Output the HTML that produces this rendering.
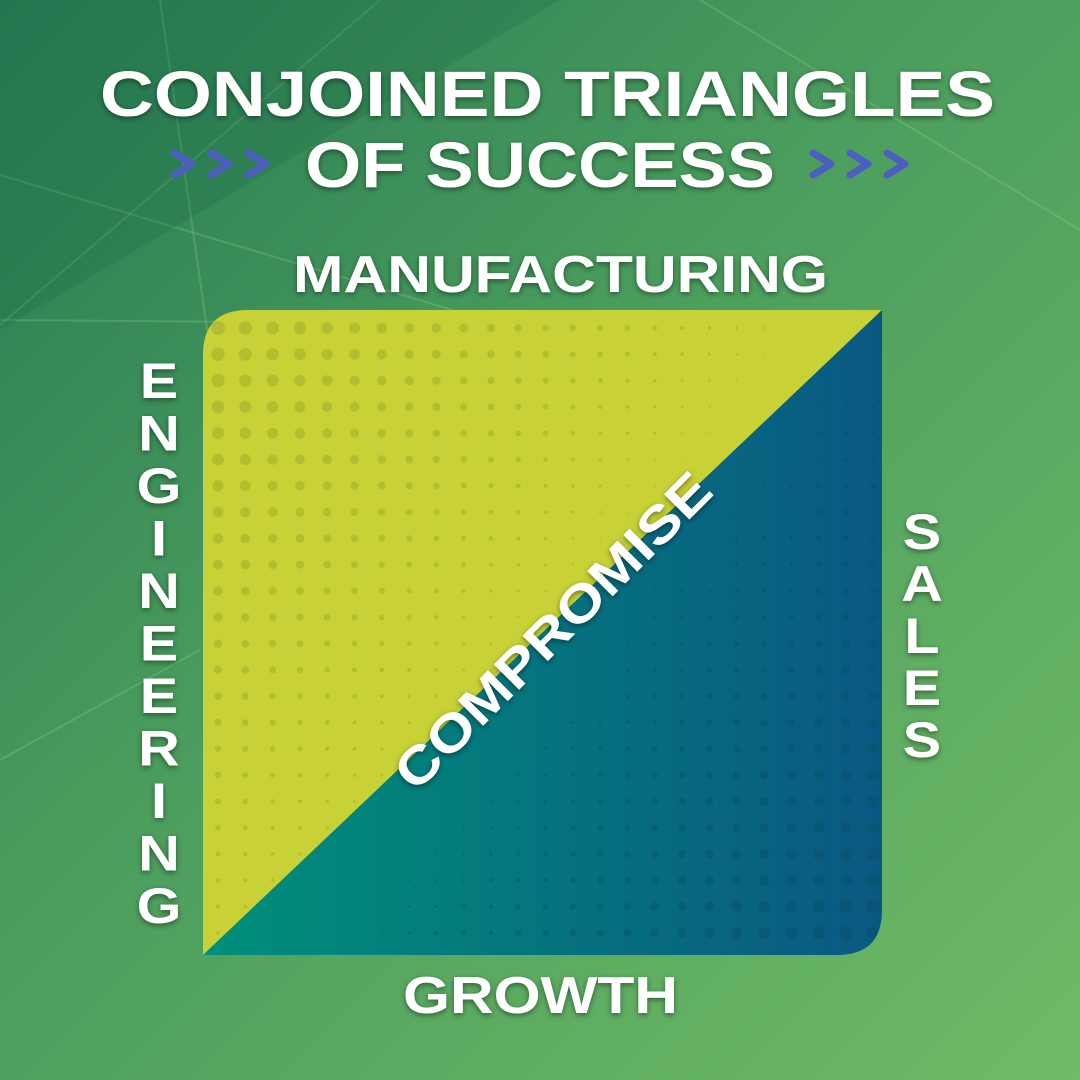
<!DOCTYPE html>
<html><head><meta charset="utf-8"><style>
html,body{margin:0;padding:0;width:1080px;height:1080px;overflow:hidden;}
svg{display:block}
text{font-family:"Liberation Sans",sans-serif;font-weight:bold;fill:#fff;}
</style></head><body>
<svg id="s" width="1080" height="1080" viewBox="0 0 1080 1080">
<defs>
<linearGradient id="bg" x1="0" y1="0" x2="1" y2="1">
<stop offset="0" stop-color="#257a52"/><stop offset="0.45" stop-color="#4c9e5e"/><stop offset="1" stop-color="#70bb66"/>
</linearGradient>
<linearGradient id="teal" x1="0" y1="0" x2="1" y2="0">
<stop offset="0" stop-color="#00907a"/><stop offset="1" stop-color="#0a5882"/>
</linearGradient>
<filter id="sh" x="-20%" y="-20%" width="140%" height="140%"><feDropShadow dx="0" dy="2" stdDeviation="3" flood-color="#000" flood-opacity="0.45"/></filter>
<clipPath id="sq"><path d="M248,310 H882 V910 Q882,955 837,955 H203 V355 Q203,310 248,310 Z"/></clipPath>
<clipPath id="upper"><polygon points="203,310 882,310 203,955"/></clipPath>
<clipPath id="lower"><polygon points="882,310 882,955 203,955"/></clipPath>
</defs>
<rect width="1080" height="1080" fill="url(#bg)"/>
<g stroke="#9fd890" stroke-opacity="0.25" stroke-width="2" fill="none">
<line x1="0" y1="175" x2="620" y2="360"/>
<line x1="0" y1="325" x2="380" y2="0"/>
<line x1="160" y1="0" x2="240" y2="560"/>
<line x1="0" y1="320" x2="260" y2="322"/>
<line x1="700" y1="0" x2="1080" y2="230"/>
<line x1="0" y1="760" x2="200" y2="650"/>
</g>
<polygon points="0,0 560,0 0,330" fill="#1e6e4a" opacity="0.3"/>
<g clip-path="url(#sq)">
<polygon points="203,310 882,310 203,955" fill="#c8d236"/>
<polygon points="882,310 882,955 203,955" fill="url(#teal)"/>
<g id="dotsU" clip-path="url(#upper)" fill="#a9b52e" opacity="0.7"></g>
<g id="dotsL" clip-path="url(#lower)" fill="#0a4f68" opacity="0.45"></g>
</g>
<g filter="url(#sh)">
<text x="100" y="116" font-size="64" textLength="895" lengthAdjust="spacingAndGlyphs">CONJOINED TRIANGLES</text>
<text x="305" y="187" font-size="64" textLength="470" lengthAdjust="spacingAndGlyphs">OF SUCCESS</text>
<text x="293" y="292" font-size="52" textLength="535" lengthAdjust="spacingAndGlyphs">MANUFACTURING</text>
<text x="403" y="1013" font-size="52" textLength="275" lengthAdjust="spacingAndGlyphs">GROWTH</text>
<g id="eng"></g>
<g id="sales"></g>
<text x="-212" y="0" font-size="52" textLength="424" lengthAdjust="spacingAndGlyphs" transform="translate(552,630) rotate(-45) translate(0,19)">COMPROMISE</text>
</g>
<g fill="none" stroke="#4c5ec0" stroke-width="7" stroke-linecap="round" stroke-linejoin="round">
<polyline points="174,153 192,164 174,175"/><polyline points="211,153 229,164 211,175"/><polyline points="248,153 266,164 248,175"/>
</g>
<g fill="none" stroke="#4c5ec0" stroke-width="7" stroke-linecap="round" stroke-linejoin="round">
<polyline points="813,153 831,164 813,175"/><polyline points="850,153 868,164 850,175"/><polyline points="887,153 905,164 887,175"/>
</g>
</svg>
<script>
const ns="http://www.w3.org/2000/svg";
const eng="ENGINEERING".split("");
const sales="SALES".split("");
const ge=document.getElementById("eng");
eng.forEach((c,i)=>{const t=document.createElementNS(ns,"text");
t.setAttribute("x",159);t.setAttribute("y",398+i*52.5);t.setAttribute("font-size",50);t.setAttribute("text-anchor","middle");
t.setAttribute("transform","translate(159,0) scale(1.15,1) translate(-159,0)");


t.textContent=c;ge.appendChild(t);});
const gs=document.getElementById("sales");
sales.forEach((c,i)=>{const t=document.createElementNS(ns,"text");
t.setAttribute("x",922);t.setAttribute("y",549+i*52);t.setAttribute("font-size",50);t.setAttribute("text-anchor","middle");
t.setAttribute("transform","translate(922,0) scale(1.15,1) translate(-922,0)");


t.textContent=c;gs.appendChild(t);});
const du=document.getElementById("dotsU"),dl=document.getElementById("dotsL");
for(let r=0;r<24;r++)for(let c=0;c<25;c++){
 const x=218+c*27.3,y=328+r*26.3;
 const fu=Math.max(0,1-(c*0.045+r*0.035));
 if(fu>0.05){const e=document.createElementNS(ns,"circle");e.setAttribute("cx",x);e.setAttribute("cy",y);e.setAttribute("r",6.5*fu+0.5);
 
 
 du.appendChild(e);}
 const fl=Math.max(0,1-((24-c)*0.05+(23-r)*0.04));
 if(fl>0.05){const e=document.createElementNS(ns,"circle");e.setAttribute("cx",x);e.setAttribute("cy",y);e.setAttribute("r",6.5*fl+0.5);
 
 
 dl.appendChild(e);}
}
</script>
</body></html>
